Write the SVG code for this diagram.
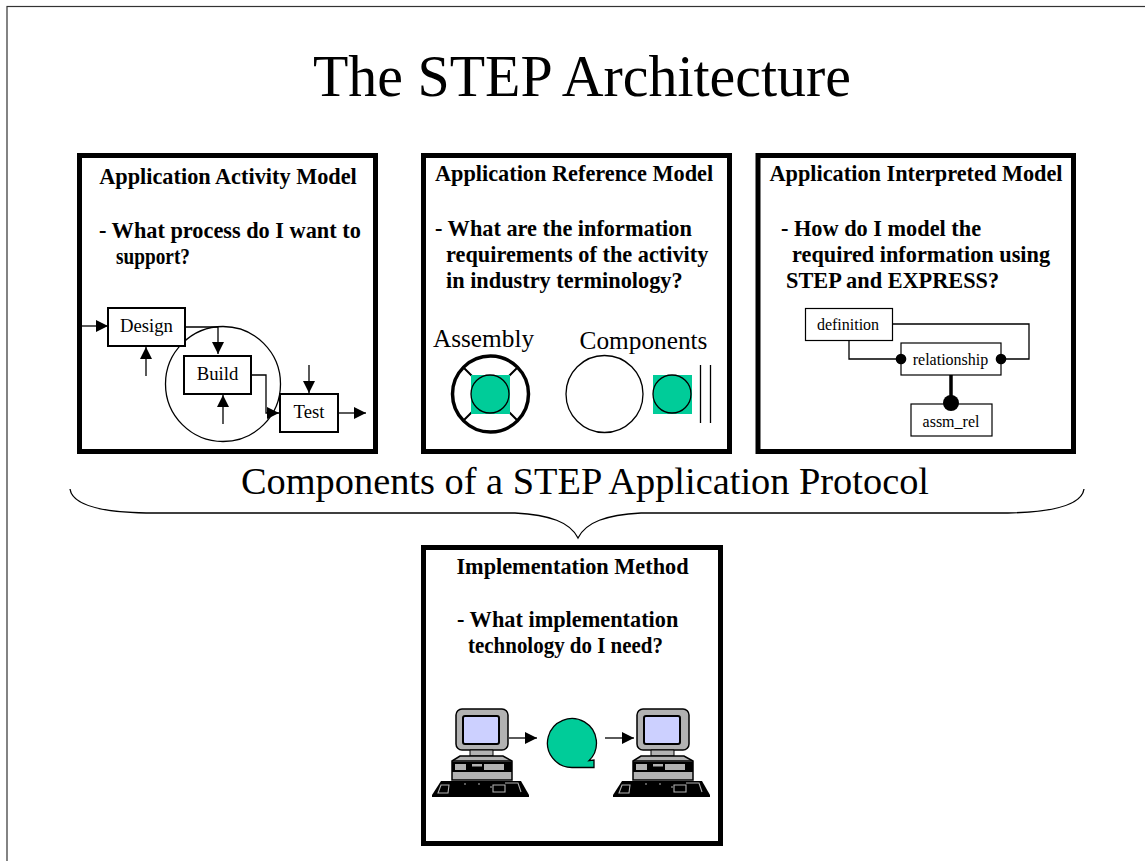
<svg xmlns="http://www.w3.org/2000/svg" width="1145" height="861" viewBox="0 0 1145 861">
<style>
text{font-family:"Liberation Serif","Times New Roman",serif;fill:#000}
.b{font-weight:bold;font-size:22.3px}
.n{font-size:18.7px;text-anchor:middle}
.s{font-size:16px;text-anchor:middle}
.panel{fill:#fff;stroke:#000;stroke-width:5}
.box{fill:#fff;stroke:#000;stroke-width:2}
.thin{fill:#fff;stroke:#000;stroke-width:1.2}
.line{fill:none;stroke:#000;stroke-width:1.3}
.green{fill:#00cc99}
</style>
<defs>
<marker id="arr" markerUnits="userSpaceOnUse" markerWidth="13" markerHeight="13" refX="12" refY="6" orient="auto"><path d="M0 0L12 6L0 12Z" fill="#000"/></marker>
<g id="pc">
<rect x="456" y="709" width="52" height="41" rx="6" fill="#b2b2b2" stroke="#000" stroke-width="1.500"/>
<rect x="463" y="716" width="36" height="28" rx="2" fill="#ccd0ff" stroke="#000" stroke-width="2"/>
<path d="M470 750H493V756H470Z" fill="#b2b2b2" stroke="#000"/>
<path d="M460 756H503L512 761V780H452V761Z" fill="#b2b2b2" stroke="#000" stroke-width="1.500"/>
<path d="M452 761H512" stroke="#000" stroke-width="1.500"/>
<rect x="452" y="762" width="60" height="10" fill="#000"/>
<rect x="455" y="764" width="11" height="6" fill="#b2b2b2"/><rect x="472" y="764" width="10" height="2.500" fill="#b2b2b2"/><rect x="484" y="764" width="20" height="6" fill="#b2b2b2"/>
<path d="M441 781H521L529 795V797H432V795Z" fill="#000"/>
<path d="M438 793L441 785H449L448 793ZM493 785V792H505V785ZM505 783H518L521 792M464 784H466M478 784H480M490 787H492" stroke="#b2b2b2" stroke-width="1.100" fill="none"/>
</g>
</defs>
<rect x="7" y="6.500" width="1150" height="870" fill="#fff" stroke="#333" stroke-width="1.200"/>
<text id="title" x="313" y="96" font-size="60" textLength="538" lengthAdjust="spacingAndGlyphs">The STEP Architecture</text>
<text id="subtitle" x="241" y="494" font-size="38" textLength="688" lengthAdjust="spacingAndGlyphs">Components of a STEP Application Protocol</text>
<path id="brace" class="line" d="M70 489C72 503 95 512 146 513H515C550 515 570 522 578 538C586 522 606 515 641 513H1008C1059 512 1082 503 1084 489"/>

<g id="aam">
<rect class="panel" x="79.500" y="155.500" width="296" height="296"/>
<text class="b" x="228" y="184" text-anchor="middle">Application Activity Model</text>
<text class="b" x="99" y="238">- What process do I want to</text>
<text class="b" x="116" y="264" textLength="74" lengthAdjust="spacingAndGlyphs">support?</text>
<circle cx="223" cy="384" r="57.500" fill="none" stroke="#000" stroke-width="1.300"/>
<g id="design"><rect class="box" x="108" y="308" width="77" height="38"/><text class="n" x="146.500" y="332">Design</text></g>
<g id="build"><rect class="box" x="184" y="356" width="67" height="38"/><text class="n" x="217.500" y="380">Build</text></g>
<g id="test"><rect class="box" x="280" y="394" width="58" height="38"/><text class="n" x="309" y="418">Test</text></g>
</g>

<g id="arm">
<rect class="panel" x="423.500" y="155.500" width="306" height="296"/>
<text class="b" x="574" y="181" text-anchor="middle">Application Reference Model</text>
<text class="b" x="435" y="236">- What are the information</text>
<text class="b" x="446" y="262">requirements of the activity</text>
<text class="b" x="446" y="288">in industry terminology?</text>
<text x="483.500" y="347" font-size="25.300" text-anchor="middle">Assembly</text>
<text x="643.500" y="349" font-size="25.300" text-anchor="middle">Components</text>
<circle cx="490.500" cy="394" r="38" fill="none" stroke="#000" stroke-width="3.500"/>
<path d="M463 367L473 377M518 367L508 377M463 421L473 411M518 421L508 411" stroke="#000" stroke-width="2" fill="none"/>
<rect class="green" x="471" y="375" width="39" height="39"/>
<circle class="green" cx="490" cy="394" r="19" stroke="#000" stroke-width="1.300"/>
<circle cx="604.500" cy="394" r="38.500" fill="none" stroke="#000" stroke-width="1.300"/>
<rect class="green" x="653" y="375" width="39" height="39"/>
<circle class="green" cx="672" cy="394" r="19" stroke="#000" stroke-width="1.300"/>
<path d="M700.500 365V423M710.500 365V423" stroke="#000" stroke-width="1.300"/>
</g>

<g id="aim">
<rect class="panel" x="758" y="155.500" width="315.500" height="296"/>
<text class="b" x="916" y="181" text-anchor="middle">Application Interpreted Model</text>
<text class="b" x="781" y="236">- How do I model the</text>
<text class="b" x="792" y="262">required information using</text>
<text class="b" x="786" y="288">STEP and EXPRESS?</text>
<g id="definition"><rect class="thin" x="805.500" y="308.500" width="87" height="32"/><text class="s" x="848" y="330">definition</text></g>
<g id="relationship"><rect class="thin" x="901" y="343" width="100" height="32"/><text class="s" x="950.500" y="365">relationship</text></g>
<g id="assm_rel"><rect class="thin" x="911" y="404" width="81" height="32"/><text class="s" x="951" y="427">assm_rel</text></g>
</g>

<g id="im">
<rect class="panel" x="423.500" y="547.500" width="297" height="296"/>
<text class="b" x="572.500" y="574" text-anchor="middle">Implementation Method</text>
<text class="b" x="457" y="627">- What implementation</text>
<text class="b" x="468" y="653" textLength="195" lengthAdjust="spacingAndGlyphs">technology do I need?</text>
<use href="#pc"/>
<use href="#pc" x="181"/>
<path d="M572 767.500A24.500 24.500 0 1 1 589 760.600L594 760V767.500Z" fill="#00cc99" stroke="#000" stroke-width="1.300"/>
</g>

<g id="connectors">
<path class="line" marker-end="url(#arr)" d="M82 326H108"/>
<path class="line" marker-end="url(#arr)" d="M146 376V347"/>
<path class="line" marker-end="url(#arr)" d="M185 327H218V354"/>
<path class="line" marker-end="url(#arr)" d="M223 424V395"/>
<path class="line" marker-end="url(#arr)" d="M252 375H266V413H279"/>
<path class="line" marker-end="url(#arr)" d="M309 365V393"/>
<path class="line" marker-end="url(#arr)" d="M338 413H366"/>
<path class="line" marker-end="url(#arr)" d="M509 738H537"/>
<path class="line" marker-end="url(#arr)" d="M605 738H634"/>
<path class="line" d="M893 324H1029V359H1001M849 341V359H901"/>
<circle cx="901" cy="359" r="5.300"/><circle cx="1001" cy="359" r="5.300"/>
<path d="M951 375V404" stroke="#000" stroke-width="3.500"/>
<circle cx="951" cy="403" r="8"/>
</g>
</svg>
